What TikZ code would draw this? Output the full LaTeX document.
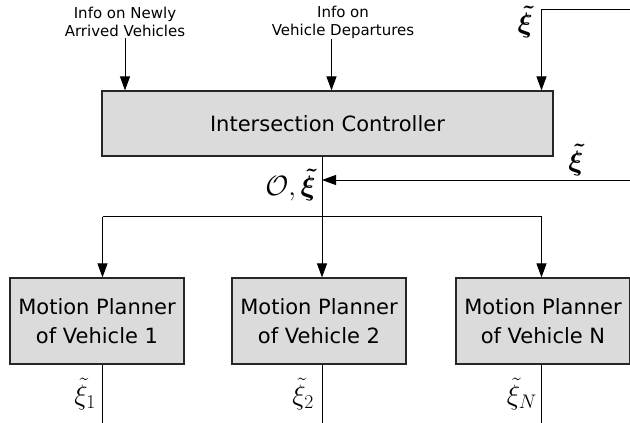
\RequirePackage{fix-cm}
\documentclass[tikz,border=0pt]{standalone}
\usepackage{amsmath}
\usepackage{fontspec}
\setsansfont{DejaVu Sans}
\usetikzlibrary{arrows.meta}
\begin{document}
\begin{tikzpicture}[x=1pt,y=-1pt,
    block/.style={draw=black!85,line width=1.2pt,fill=black!14,inner sep=0pt,align=center,
      font=\sffamily\fontsize{21}{29}\selectfont},
    info/.style={inner sep=1pt,align=center,font=\sffamily\fontsize{15}{18}\selectfont},
    sig/.style={inner sep=0pt,font=\fontsize{28}{32}\selectfont},
    wire/.style={line width=1pt},
    arr/.style={line width=1pt,-{Triangle[length=14pt,width=10pt]}}]
  \useasboundingbox (0,0) rectangle (630,423);
  % blocks
  \node[block,minimum width=451pt,minimum height=65pt] (ctrl) at (327.5,123.5) {Intersection Controller};
  \node[block,minimum width=174pt,minimum height=86pt] (mp1) at (97,321) {Motion Planner\\of Vehicle 1};
  \node[block,minimum width=174pt,minimum height=86pt] (mp2) at (319,321) {Motion Planner\\of Vehicle 2};
  \node[block,minimum width=174pt,minimum height=86pt] (mp3) at (543,321) {Motion Planner\\of Vehicle N};
  % inputs
  \node[info] (in1) at (125,22) {Info on Newly\\Arrived Vehicles};
  \node[info] (in2) at (343,22) {Info on\\Vehicle Departures};
  \coordinate (x2) at (331.5,0);
  \coordinate (fbtop) at (630,9);
  \coordinate (fbmid) at (630,180);
  \coordinate (bot) at (0,423);
  \coordinate (j1) at (102.5,216.7);
  \coordinate (j2) at (322,216.7);
  \coordinate (j3) at (541.5,216.7);
  \draw[arr] (in1.south) -- (in1.south |- ctrl.north);
  \draw[arr] (in2.south -| x2) -- (ctrl.north -| x2);
  \draw[arr] (fbtop) -| (ctrl.north -| j3);
  % outputs
  \draw[arr] (ctrl.south -| j2) -- (mp2.north -| j2);
  \draw[wire] (j1) -- (j3);
  \draw[arr] (j1) -- (mp1.north -| j1);
  \draw[arr] (j3) -- (mp3.north -| j3);
  \draw[arr] (fbmid) -- (fbmid -| j2);
  \draw[wire] (mp1.south -| j1) -- (bot -| j1);
  \draw[wire] (mp2.south -| j2) -- (bot -| j2);
  \draw[wire] (mp3.south -| j3) -- (bot -| j3);
  % labels
  \node[sig,anchor=east] (xt) at (533,22) {$\boldsymbol{\tilde{\xi}}$};
  \node[sig] (xf) at (576,160) {$\boldsymbol{\tilde{\xi}}$};
  \node[sig,anchor=east] (out) at (316,185) {$\mathcal{O},\boldsymbol{\tilde{\xi}}$};
  \node[sig,anchor=east] (x1) at (96,394) {$\tilde{\xi}_1$};
  \node[sig,anchor=east] (x2l) at (314,394) {$\tilde{\xi}_2$};
  \node[sig,anchor=east] (xn) at (537,394) {$\tilde{\xi}_N$};
\end{tikzpicture}
\end{document}
